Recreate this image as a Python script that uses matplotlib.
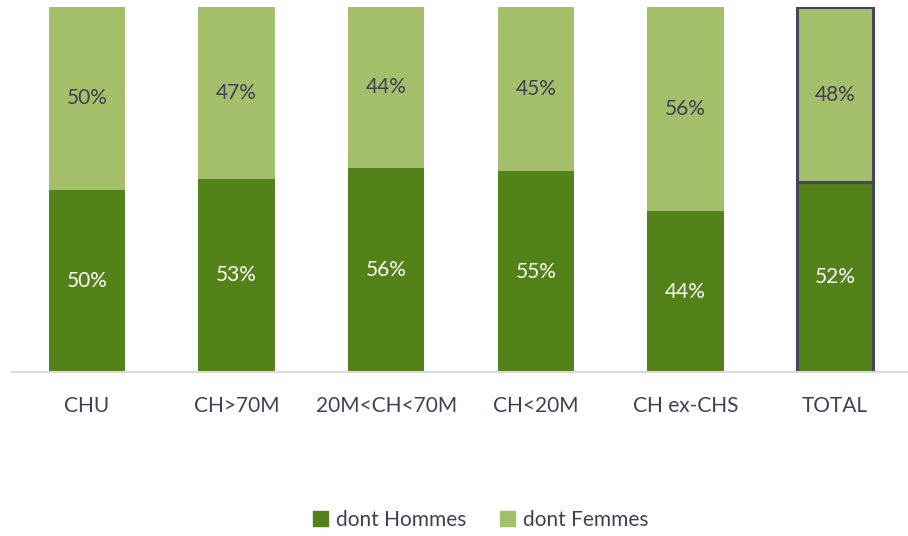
import matplotlib.pyplot as plt
import numpy as np

# Data ------------------------------------------------------------------
categories = ['CHU', 'CH>70M', '20M<CH<70M', 'CH<20M', 'CH ex-CHS', 'TOTAL']
hommes = [50, 53, 56, 55, 44, 52]
femmes = [50, 47, 44, 45, 56, 48]

dark_green = '#538219'
light_green = '#A3BF69'
text_color = '#433E55'

plt.rcParams['font.family'] = ['Lato', 'DejaVu Sans']

fig = plt.figure(figsize=(9.08, 5.36), dpi=100)
ax = fig.add_axes([12 / 908, (536 - 372) / 536, 898 / 908, 365 / 536])

x = np.arange(len(categories))
width = 0.51

h = np.array(hommes) / 100
f = np.array(femmes) / 100

bars_h = ax.bar(x, h, width, color=dark_green, label='dont Hommes', zorder=2)
bars_f = ax.bar(x, f, width, bottom=h, color=light_green, label='dont Femmes', zorder=2)

# Outline for the TOTAL bar
for b in (bars_h[-1], bars_f[-1]):
    b.set_edgecolor('#4B4260')
    b.set_linewidth(2.2)

for i in range(len(categories)):
    ax.text(x[i], h[i] / 2, f'{hommes[i]}%', ha='center', va='center',
            color='white', fontsize=15)
    ax.text(x[i], h[i] + f[i] / 2, f'{femmes[i]}%', ha='center', va='center',
            color=text_color, fontsize=15)

ax.set_xlim(-0.5, len(categories) - 0.5)
ax.set_ylim(0, 1)
ax.set_yticks([])
ax.set_xticks(x)
ax.set_xticklabels(categories, fontsize=15, color=text_color)
ax.tick_params(axis='x', length=0, pad=17)
for side in ['top', 'right', 'left']:
    ax.spines[side].set_visible(False)
ax.spines['bottom'].set_color('#D9D9D9')
ax.spines['bottom'].set_linewidth(1.5)

handles = [plt.Rectangle((0, 0), 1, 1, color=dark_green),
           plt.Rectangle((0, 0), 1, 1, color=light_green)]
fig.legend(handles, ['dont Hommes', 'dont Femmes'], loc='center',
           bbox_to_anchor=(481 / 908, 1 - 520 / 536), ncol=2, frameon=False,
           fontsize=15, labelcolor=text_color, handlelength=0.7,
           handleheight=0.7, handletextpad=0.4, columnspacing=1.6)

fig.savefig('out.png', dpi=100)
